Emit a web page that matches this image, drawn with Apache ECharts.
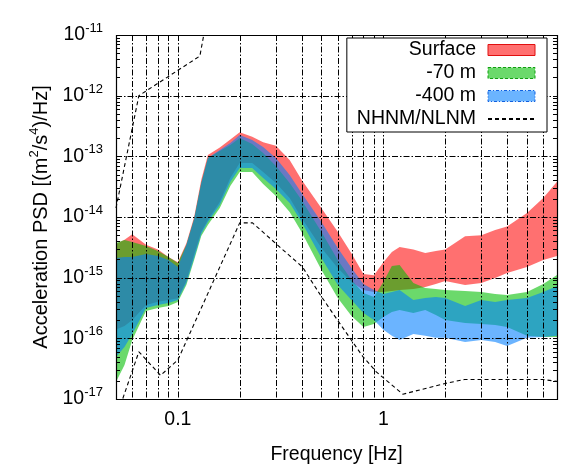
<!DOCTYPE html>
<html><head><meta charset="utf-8">
<script src="https://cdn.jsdelivr.net/npm/echarts@6/dist/echarts.min.js"></script>
<style>html,body{margin:0;padding:0;background:#fff}#c{width:583px;height:474px}</style>
</head><body><div id="c"></div>
<script>
// ---- data ----
const freq = [0.05, 0.055, 0.06, 0.07, 0.08, 0.09, 0.1, 0.11, 0.12, 0.13, 0.14, 0.16, 0.18, 0.2, 0.23, 0.26, 0.3, 0.35, 0.4, 0.5, 0.6, 0.7, 0.8, 0.9, 1.0, 1.1, 1.2, 1.4, 1.6, 1.8, 2.0, 2.5, 3.0, 3.5, 4.0, 5.0, 6.0, 7.0];

const surfaceHigh = [3.6e-15, 4.2e-15, 5.2e-15, 3.5e-15, 2.9e-15, 2.2e-15, 1.8e-15, 3.7e-15, 1.0e-14, 4.1e-14, 1.05e-13, 1.4e-13, 1.9e-13, 2.5e-13, 2.1e-13, 1.7e-13, 1.5e-13, 8.7e-14, 4.1e-14, 1.4e-14, 5.7e-15, 2.5e-15, 1.15e-15, 1.1e-15, 1.8e-15, 2.65e-15, 3.2e-15, 2.9e-15, 2.55e-15, 2.75e-15, 2.9e-15, 4.8e-15, 5.0e-15, 6.1e-15, 7.0e-15, 1.16e-14, 2.06e-14, 3.8e-14];
const surfaceLow = [1.4e-16, 1.6e-16, 2.0e-16, 3.55e-16, 4.0e-16, 4.3e-16, 4.6e-16, 8.8e-16, 2.4e-15, 5.7e-15, 8.9e-15, 1.77e-14, 4.4e-14, 7.75e-14, 7.75e-14, 5.5e-14, 3.63e-14, 2.06e-14, 9.6e-15, 3.08e-15, 1.45e-15, 8.5e-16, 6.27e-16, 5.8e-16, 5.8e-16, 6.04e-16, 6.27e-16, 6.5e-16, 7.0e-16, 7.86e-16, 8.8e-16, 7.57e-16, 8.17e-16, 9.9e-16, 1.19e-15, 1.5e-15, 1.96e-15, 2.28e-15];

const m70High = [3.73e-15, 4.18e-15, 3.87e-15, 3.33e-15, 2.75e-15, 2.19e-15, 1.74e-15, 3.46e-15, 9.27e-15, 3.63e-14, 9.36e-14, 1.22e-13, 1.54e-13, 2.0e-13, 1.6e-13, 1.13e-13, 6.91e-14, 3.63e-14, 1.91e-14, 5.66e-15, 1.96e-15, 9.15e-16, 5.6e-16, 4.81e-16, 8.5e-16, 1.56e-15, 1.62e-15, 8.17e-16, 6.76e-16, 6.5e-16, 6.27e-16, 6.04e-16, 5.81e-16, 5.4e-16, 5.19e-16, 5.81e-16, 7.86e-16, 1.11e-15];
const m70Low = [1.91e-17, 3.63e-17, 9.36e-17, 2.83e-16, 3.17e-16, 3.42e-16, 3.98e-16, 7.58e-16, 1.96e-15, 4.86e-15, 7.4e-15, 1.41e-14, 3.24e-14, 5.51e-14, 5.51e-14, 3.5e-14, 2.22e-14, 1.21e-14, 5.66e-15, 1.34e-15, 4.63e-16, 2.34e-16, 1.54e-16, 1.73e-16, 2.25e-16, 2.72e-16, 2.94e-16, 2.62e-16, 2.94e-16, 2.43e-16, 2.01e-16, 1.79e-16, 1.73e-16, 1.66e-16, 1.54e-16, 1.1e-16, 1.05e-16, 1.05e-16];

const m400High = [2.11e-15, 2.19e-15, 2.19e-15, 2.46e-15, 2.28e-15, 1.96e-15, 1.5e-15, 3.46e-15, 9.27e-15, 3.63e-14, 9.36e-14, 1.27e-13, 1.66e-13, 2.25e-13, 1.86e-13, 1.42e-13, 9.36e-14, 4.92e-14, 2.49e-14, 8.27e-15, 3.08e-15, 1.45e-15, 7.86e-16, 6.27e-16, 5.4e-16, 5.81e-16, 6.27e-16, 4.29e-16, 4.63e-16, 4.81e-16, 4.63e-16, 3.42e-16, 4.29e-16, 3.98e-16, 4.29e-16, 4.63e-16, 5.81e-16, 7.3e-16];
const m400Low = [4.92e-17, 7.18e-17, 1.18e-16, 3.17e-16, 3.55e-16, 3.83e-16, 4.29e-16, 8.17e-16, 2.11e-15, 5.24e-15, 8.27e-15, 1.58e-14, 3.77e-14, 6.41e-14, 6.41e-14, 4.39e-14, 2.89e-14, 1.7e-14, 8.27e-15, 2.11e-15, 7.57e-16, 4.29e-16, 2.62e-16, 2.01e-16, 1.38e-16, 1.1e-16, 9.36e-17, 1.18e-16, 1.1e-16, 1.02e-16, 1.02e-16, 8.68e-17, 9.36e-17, 8.68e-17, 7.46e-17, 1.02e-16, 1.05e-16, 1.1e-16];

const nhnmFreq = [0.05, 0.0646, 0.128, 0.138];
const nhnmVal = [1.4e-14, 1.0e-12, 4.5e-12, 1.8e-11];
const nlnmFreq = [0.05, 0.0646, 0.0824, 0.1, 0.2, 0.231, 0.32, 0.404, 0.499, 0.598, 0.698, 0.795, 0.924, 1.244, 2.0, 2.48, 5.97, 7.0];
const nlnmVal = [4.8e-18, 6.0e-17, 2.45e-17, 4.4e-17, 8.0e-15, 8.0e-15, 3.0e-15, 1.5e-15, 4.9e-16, 2.0e-16, 9.4e-17, 5.0e-17, 2.8e-17, 1.2e-17, 1.8e-17, 2.1e-17, 2.1e-17, 1.95e-17];

const xTickLabels = [0.1, 1];
const xGridValues = [0.06, 0.07, 0.08, 0.09, 0.1, 0.2, 0.3, 0.4, 0.5, 0.6, 0.7, 0.8, 0.9, 1, 2, 3, 4, 5, 6];
const yDecades = [-17, -16, -15, -14, -13, -12, -11];
const seriesNames = ['Surface', '-70 m', '-400 m', 'NHNM/NLNM'];

// ---- styles ----
const FONT = 'Liberation Sans';
const colRed = 'rgba(255,0,0,0.56)';
const colGreen = 'rgba(0,190,0,0.58)';
const colBlue = 'rgba(0,126,255,0.58)';

function bandSeries(name, low, high, fill, z) {
  return {
    name: name, type: 'custom', z: z, silent: true,
    itemStyle: { color: fill },
    encode: { x: 0, y: 1 },
    data: [[freq[0], high[0]]],
    renderItem: function (params, api) {
      const pts = [];
      for (let i = 0; i < freq.length; i++) pts.push(api.coord([freq[i], high[i]]));
      for (let i = freq.length - 1; i >= 0; i--) pts.push(api.coord([freq[i], low[i]]));
      return { type: 'polygon', shape: { points: pts }, style: { fill: fill, stroke: null } };
    }
  };
}

const overlaySeries = {
  type: 'custom', z: 5, silent: true,
  encode: { x: 0, y: 1 },
  data: [[1, 1e-14]],
  renderItem: function (params, api) {
    const cs = params.coordSys;
    const L = cs.x, T = cs.y, R = cs.x + cs.width, B = cs.y + cs.height;
    const ch = [];
    const dash = [6, 2, 1.5, 2];
    xGridValues.forEach(function (f) {
      const x = Math.round(api.coord([f, 1e-14])[0]) + 0.5;
      ch.push({ type: 'line', shape: { x1: x, y1: T, x2: x, y2: B }, style: { stroke: '#000', lineWidth: 1, lineDash: dash } });
    });
    yDecades.forEach(function (d) {
      const y = Math.round(api.coord([1, Math.pow(10, d)])[1]) + 0.5;
      if (d > -17 && d < -11) {
        ch.push({ type: 'line', shape: { x1: L, y1: y, x2: R, y2: y }, style: { stroke: '#000', lineWidth: 1, lineDash: dash } });
      }
      if (d < -11) {
        for (let m = 2; m <= 9; m++) {
          const yy = Math.round(api.coord([1, m * Math.pow(10, d)])[1]) + 0.5;
          ch.push({ type: 'line', shape: { x1: L, y1: yy, x2: L + 4, y2: yy }, style: { stroke: '#000', lineWidth: 1 } });
          ch.push({ type: 'line', shape: { x1: R - 4, y1: yy, x2: R, y2: yy }, style: { stroke: '#000', lineWidth: 1 } });
        }
      }
    });
    ch.push({ type: 'rect', shape: { x: Math.round(L) + 0.5, y: Math.round(T) + 0.5, width: Math.round(R - L), height: Math.round(B - T) }, style: { fill: null, stroke: '#000', lineWidth: 1.2 } });
    return { type: 'group', children: ch };
  }
};

function lineSeries(fx, vy) {
  return {
    name: 'NHNM/NLNM', type: 'line', z: 4, symbol: 'none', silent: true,
    data: fx.map(function (f, i) { return [f, vy[i]]; }),
    lineStyle: { color: '#000', width: 1.1, type: [4, 3] },
    itemStyle: { color: '#000' }
  };
}

const chart = echarts.init(document.getElementById('c'), null, { renderer: 'canvas' });
chart.setOption({
  animation: false,
  backgroundColor: '#fff',
  grid: { left: 116, right: 26, top: 35, bottom: 75, containLabel: false },
  xAxis: {
    type: 'log', logBase: 10, min: 0.05, max: 7,
    axisLine: { show: false }, axisTick: { show: false }, splitLine: { show: false },
    axisLabel: {
      showMinLabel: false, showMaxLabel: false, margin: 11,
      color: '#000', fontFamily: FONT, fontSize: 19.5,
      formatter: function (v) {
        const hit = xTickLabels.find(function (t) { return Math.abs(t - v) / t < 1e-6; });
        return hit === undefined ? '' : String(hit);
      }
    },
    name: 'Frequency [Hz]', nameLocation: 'middle', nameGap: 46,
    nameTextStyle: { color: '#000', fontFamily: FONT, fontSize: 19.5 }
  },
  yAxis: {
    type: 'log', logBase: 10, min: 1e-17, max: 1e-11,
    axisLine: { show: false }, axisTick: { show: false }, splitLine: { show: false },
    axisLabel: {
      margin: 13, color: '#000', fontFamily: FONT,
      formatter: function (v) { return '{b|10}{s|' + Math.round(Math.log10(v)) + '}'; },
      rich: {
        b: { fontSize: 19.5, fontFamily: FONT, color: '#000', lineHeight: 26 },
        s: { fontSize: 13, fontFamily: FONT, color: '#000', verticalAlign: 'top', lineHeight: 14 }
      }
    },
    name: '{b|Acceleration PSD [(m}{s|2}{b|/s}{s|4}{b|)/Hz]}',
    nameLocation: 'middle', nameGap: 62, nameRotate: 90,
    nameTextStyle: {
      color: '#000', fontFamily: FONT,
      rich: {
        b: { fontSize: 20, fontFamily: FONT, color: '#000', lineHeight: 26 },
        s: { fontSize: 13, fontFamily: FONT, color: '#000', verticalAlign: 'top', lineHeight: 14 }
      }
    }
  },
  legend: {
    orient: 'vertical', align: 'right', right: 36, top: 38, z: 20,
    itemWidth: 47, itemHeight: 11, itemGap: 1,
    padding: [1, 11, 2, 10],
    backgroundColor: '#fff', borderColor: '#000', borderWidth: 1, borderRadius: 0,
    selectedMode: false,
    textStyle: { color: '#000', fontFamily: FONT, fontSize: 19.5, lineHeight: 22, padding: [0, 7, 0, 0] },
    data: [
      { name: seriesNames[0], icon: 'rect', itemStyle: { color: colRed, borderColor: '#e01010', borderWidth: 1 } },
      { name: seriesNames[1], icon: 'rect', itemStyle: { color: colGreen, borderColor: '#10a010', borderWidth: 1, borderType: [3, 2] } },
      { name: seriesNames[2], icon: 'rect', itemStyle: { color: colBlue, borderColor: '#1060e0', borderWidth: 1, borderType: [3, 2, 1, 2] } },
      { name: seriesNames[3], itemStyle: { opacity: 0, color: 'rgba(0,0,0,0)', borderWidth: 0 } }
    ]
  },
  series: [
    bandSeries(seriesNames[0], surfaceLow, surfaceHigh, colRed, 1),
    bandSeries(seriesNames[1], m70Low, m70High, colGreen, 2),
    bandSeries(seriesNames[2], m400Low, m400High, colBlue, 3),
    lineSeries(nhnmFreq, nhnmVal),
    lineSeries(nlnmFreq, nlnmVal),
    overlaySeries
  ]
});
</script>
</body></html>
